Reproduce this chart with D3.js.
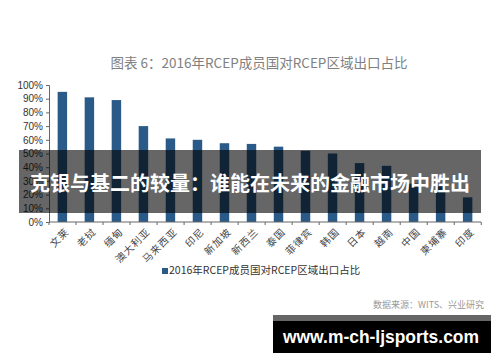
<!DOCTYPE html>
<html>
<head>
<meta charset="utf-8">
<script src="https://cdn.jsdelivr.net/npm/d3@7"></script>
<style>
  body { margin: 0; background: #fff; }
  svg { display: block; }
</style>
</head>
<body>
<svg id="chart" width="500" height="362"></svg>
<script>
// data
var countries = ["文莱", "老挝", "缅甸", "澳大利亚", "马来西亚", "印尼", "新加坡", "新西兰",
                 "泰国", "菲律宾", "韩国", "日本", "越南", "中国", "柬埔寨", "印度"];
var shares = [95, 91, 89, 70, 61, 60, 57.5, 57, 55, 52, 50, 43, 41, 28, 26, 18];
var yTicks = [0, 10, 20, 30, 40, 50, 60, 70, 80, 90, 100];

var title = "图表 6：2016年RCEP成员国对RCEP区域出口占比";
var legendText = "2016年RCEP成员国对RCEP区域出口占比";
var banner = "克银与基二的较量：谁能在未来的金融市场中胜出";
var source = "数据来源：WITS、兴业研究";
var site = "www.m-ch-ljsports.com";

var svg = d3.select("#chart");
var font = "'Noto Sans CJK SC', 'Noto Sans', sans-serif";
var barColor = "#2a5a88";

var x = d3.scaleBand().domain(countries).range([49, 481]).paddingInner(0.65).paddingOuter(0.32);
var y = d3.scaleLinear().domain([0, 100]).range([222, 85]);

// title
svg.append("text")
  .attr("x", 259).attr("y", 68)
  .attr("text-anchor", "middle")
  .attr("font-family", font).attr("font-size", 13.5)
  .attr("fill", "#808080")
  .text(title);

// bars
svg.selectAll(".bar")
  .data(shares)
  .enter()
  .append("rect")
  .attr("class", "bar")
  .attr("x", function(d, i) { return x(countries[i]); })
  .attr("y", function(d) { return y(d); })
  .attr("width", x.bandwidth())
  .attr("height", function(d) { return y(0) - y(d); })
  .attr("fill", barColor);

// y axis
var yAxis = svg.append("g")
  .attr("transform", "translate(49,0)")
  .call(d3.axisLeft(y).tickValues(yTicks).tickSize(3).tickFormat(function(d) { return d + "%"; }));
yAxis.select(".domain").attr("stroke", "#666");
yAxis.selectAll(".tick line").attr("stroke", "#666");
yAxis.selectAll("text")
  .attr("font-family", "'Liberation Sans', Arial, sans-serif")
  .attr("font-size", 10).attr("fill", "#333").attr("x", -6);

// x axis: ticks sit between the categories
var step = x.step();
var xAxis = svg.append("g").attr("transform", "translate(0,222)");
xAxis.append("line")
  .attr("x1", 49).attr("x2", 481)
  .attr("stroke", "#666");
xAxis.selectAll(".xt")
  .data(d3.range(countries.length + 1))
  .enter()
  .append("line")
  .attr("x1", function(d) { return 49 + d * step; })
  .attr("x2", function(d) { return 49 + d * step; })
  .attr("y1", 0).attr("y2", 3)
  .attr("stroke", "#666");
xAxis.selectAll(".xl")
  .data(countries)
  .enter()
  .append("text")
  .attr("text-anchor", "end")
  .attr("font-family", font).attr("font-size", 10)
  .attr("letter-spacing", 1)
  .attr("fill", "#444")
  .attr("transform", function(d) {
    return "translate(" + (x(d) + x.bandwidth() / 2 + 5) + ",8) rotate(-45)";
  })
  .attr("dy", "0.35em")
  .text(function(d) { return d; });

// legend
svg.append("rect")
  .attr("x", 162).attr("y", 268).attr("width", 6).attr("height", 6)
  .attr("fill", barColor);
svg.append("text")
  .attr("x", 169).attr("y", 274)
  .attr("font-family", font).attr("font-size", 10.5)
  .attr("fill", "#333")
  .text(legendText);

// source
svg.append("text")
  .attr("x", 484).attr("y", 308)
  .attr("text-anchor", "end")
  .attr("font-family", font).attr("font-size", 9)
  .attr("fill", "#999")
  .text(source);

// banner over the chart
svg.append("rect")
  .attr("x", 19).attr("y", 150).attr("width", 462).attr("height", 63)
  .attr("fill", "rgba(0,0,0,0.6)");
svg.append("text")
  .attr("x", 250).attr("y", 191)
  .attr("text-anchor", "middle")
  .attr("font-family", font).attr("font-size", 20).attr("font-weight", "bold")
  .attr("fill", "#fff")
  .text(banner);

// site watermark
svg.append("rect")
  .attr("x", 273).attr("y", 315).attr("width", 218).attr("height", 6)
  .attr("fill", "#666");
svg.append("rect")
  .attr("x", 273).attr("y", 321).attr("width", 218).attr("height", 32)
  .attr("fill", "#000");
svg.append("text")
  .attr("x", 283).attr("y", 343)
  .attr("font-family", "'Liberation Sans', Arial, sans-serif").attr("font-size", 18).attr("font-weight", "bold")
  .attr("textLength", 196).attr("lengthAdjust", "spacingAndGlyphs")
  .attr("fill", "#fff")
  .text(site);
</script>
</body>
</html>
